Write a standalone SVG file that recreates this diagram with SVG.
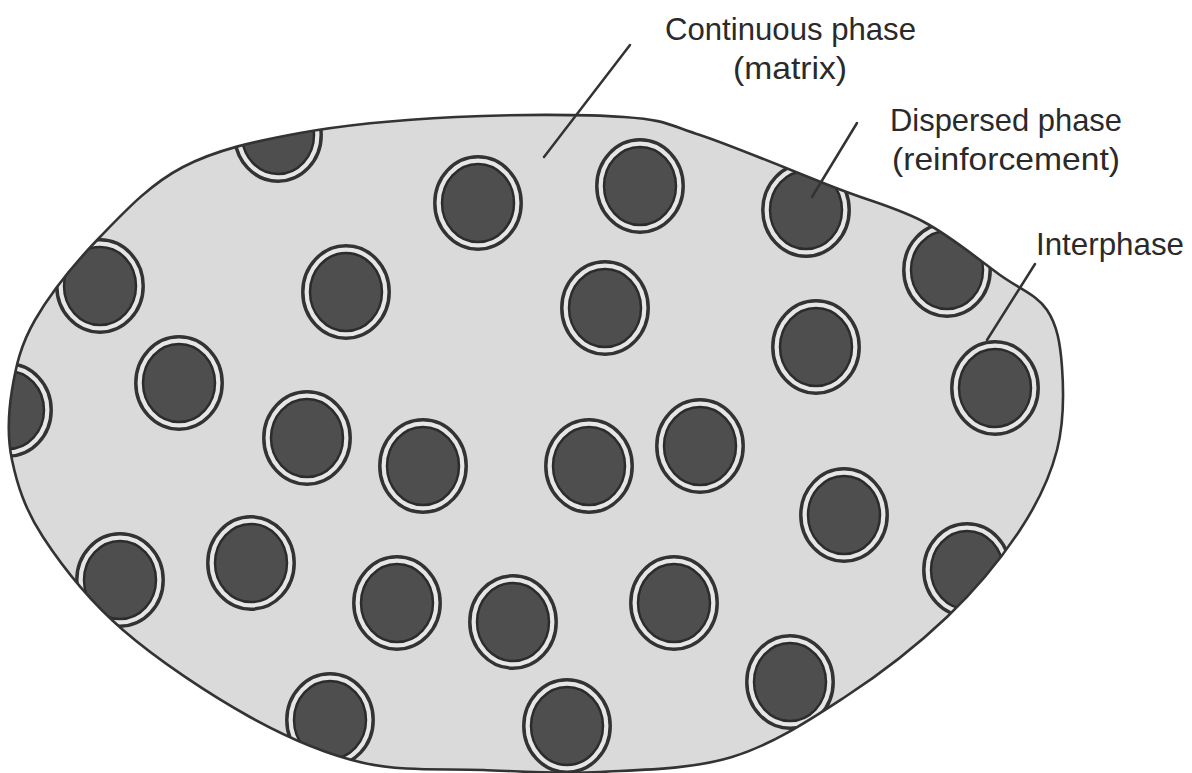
<svg xmlns="http://www.w3.org/2000/svg" xmlns:xlink="http://www.w3.org/1999/xlink" width="1192" height="773" viewBox="0 0 1192 773">
<style>
.lbl{font-family:"Liberation Sans","Open Sans",Arial,sans-serif;font-size:32px;fill:#2a2a2a;}
.lead{stroke:#333;stroke-width:2.5;fill:none;stroke-linecap:round;}
.outline{fill:none;stroke:#333;stroke-width:2.6;stroke-linejoin:round;}
.ring{fill:#e6e6e6;stroke:#333;stroke-width:3.5;}
.core{fill:#4e4e4e;stroke:#2c2c2c;stroke-width:2.5;}
</style>
<defs>
<path id="blobShape" d="M456,117 C510,114.3 583.3,114 624,117 C664.7,120 664.7,123.2 700,135 C735.3,146.8 798.7,173.5 836,188 C873.3,202.5 896.7,207.5 924,222 C951.3,236.5 979.5,260.3 1000,275 C1020.5,289.7 1036.7,294.7 1047,310 C1057.3,325.3 1060.3,343.7 1062,367 C1063.7,390.3 1064,422.8 1057,450 C1050,477.2 1038.3,502.2 1020,530 C1001.7,557.8 976.2,589.2 947,617 C917.8,644.8 880.8,673.7 845,697 C809.2,720.3 772.8,744.5 732,757 C691.2,769.5 641.5,769.8 600,772 C558.5,774.2 522.3,771.5 483,770 C443.7,768.5 402.8,771.8 364,763 C325.2,754.2 290.2,739.2 250,717 C209.8,694.8 157.5,660 123,630 C88.5,600 61.5,565.3 43,537 C24.5,508.7 17.2,484.5 12,460 C6.8,435.5 8.2,413.3 12,390 C15.8,366.7 20.3,345.5 35,320 C49.7,294.5 75.3,262.5 100,237 C124.7,211.5 149.7,184.3 183,167 C216.3,149.7 254.5,141.3 300,133 C345.5,124.7 402,119.7 456,117 Z"/>
<clipPath id="blobClip"><use href="#blobShape"/></clipPath>
<g id="particle">
<ellipse class="ring" cx="0" cy="0" rx="43.2" ry="46.2"/>
<ellipse class="core" cx="0" cy="0" rx="36" ry="39"/>
</g>
</defs>

<g id="matrix">
<use href="#blobShape" fill="#dadada"/>
</g>

<g id="particles" clip-path="url(#blobClip)">
<g id="particle-1"><use href="#particle" x="278" y="135"/></g>
<g id="particle-2"><use href="#particle" x="478" y="203"/></g>
<g id="particle-3"><use href="#particle" x="640" y="186"/></g>
<g id="particle-4"><use href="#particle" x="806" y="210"/></g>
<g id="particle-5"><use href="#particle" x="947" y="270"/></g>
<g id="particle-6"><use href="#particle" x="100" y="286"/></g>
<g id="particle-7"><use href="#particle" x="346" y="292"/></g>
<g id="particle-8"><use href="#particle" x="605" y="308"/></g>
<g id="particle-9"><use href="#particle" x="816" y="347"/></g>
<g id="particle-10"><use href="#particle" x="995" y="388"/></g>
<g id="particle-11"><use href="#particle" x="179" y="383"/></g>
<g id="particle-12"><use href="#particle" x="8" y="410"/></g>
<g id="particle-13"><use href="#particle" x="307" y="438"/></g>
<g id="particle-14"><use href="#particle" x="423" y="466"/></g>
<g id="particle-15"><use href="#particle" x="589" y="466"/></g>
<g id="particle-16"><use href="#particle" x="700" y="446"/></g>
<g id="particle-17"><use href="#particle" x="844" y="515"/></g>
<g id="particle-18"><use href="#particle" x="251" y="563"/></g>
<g id="particle-19"><use href="#particle" x="120" y="580"/></g>
<g id="particle-20"><use href="#particle" x="397" y="603"/></g>
<g id="particle-21"><use href="#particle" x="513" y="622"/></g>
<g id="particle-22"><use href="#particle" x="674" y="603"/></g>
<g id="particle-23"><use href="#particle" x="967" y="570"/></g>
<g id="particle-24"><use href="#particle" x="790" y="682"/></g>
<g id="particle-25"><use href="#particle" x="330" y="720"/></g>
<g id="particle-26"><use href="#particle" x="567" y="726"/></g>
</g>

<g id="boundary">
<use href="#blobShape" class="outline"/>
</g>

<g id="connectors">
<line class="lead" x1="630" y1="45" x2="544" y2="157"/>
<line class="lead" x1="857" y1="123" x2="812" y2="197"/>
<line class="lead" x1="1035" y1="264" x2="987" y2="340"/>
</g>

<g id="labels">
<g id="label-continuous">
<text class="lbl" x="665" y="40" textLength="251" lengthAdjust="spacingAndGlyphs">Continuous phase</text>
<text class="lbl" x="733" y="79" textLength="114" lengthAdjust="spacingAndGlyphs">(matrix)</text>
</g>
<g id="label-dispersed">
<text class="lbl" x="890" y="131" textLength="232" lengthAdjust="spacingAndGlyphs">Dispersed phase</text>
<text class="lbl" x="892" y="170" textLength="228" lengthAdjust="spacingAndGlyphs">(reinforcement)</text>
</g>
<g id="label-interphase">
<text class="lbl" x="1036" y="255" textLength="148" lengthAdjust="spacingAndGlyphs">Interphase</text>
</g>
</g>
</svg>
